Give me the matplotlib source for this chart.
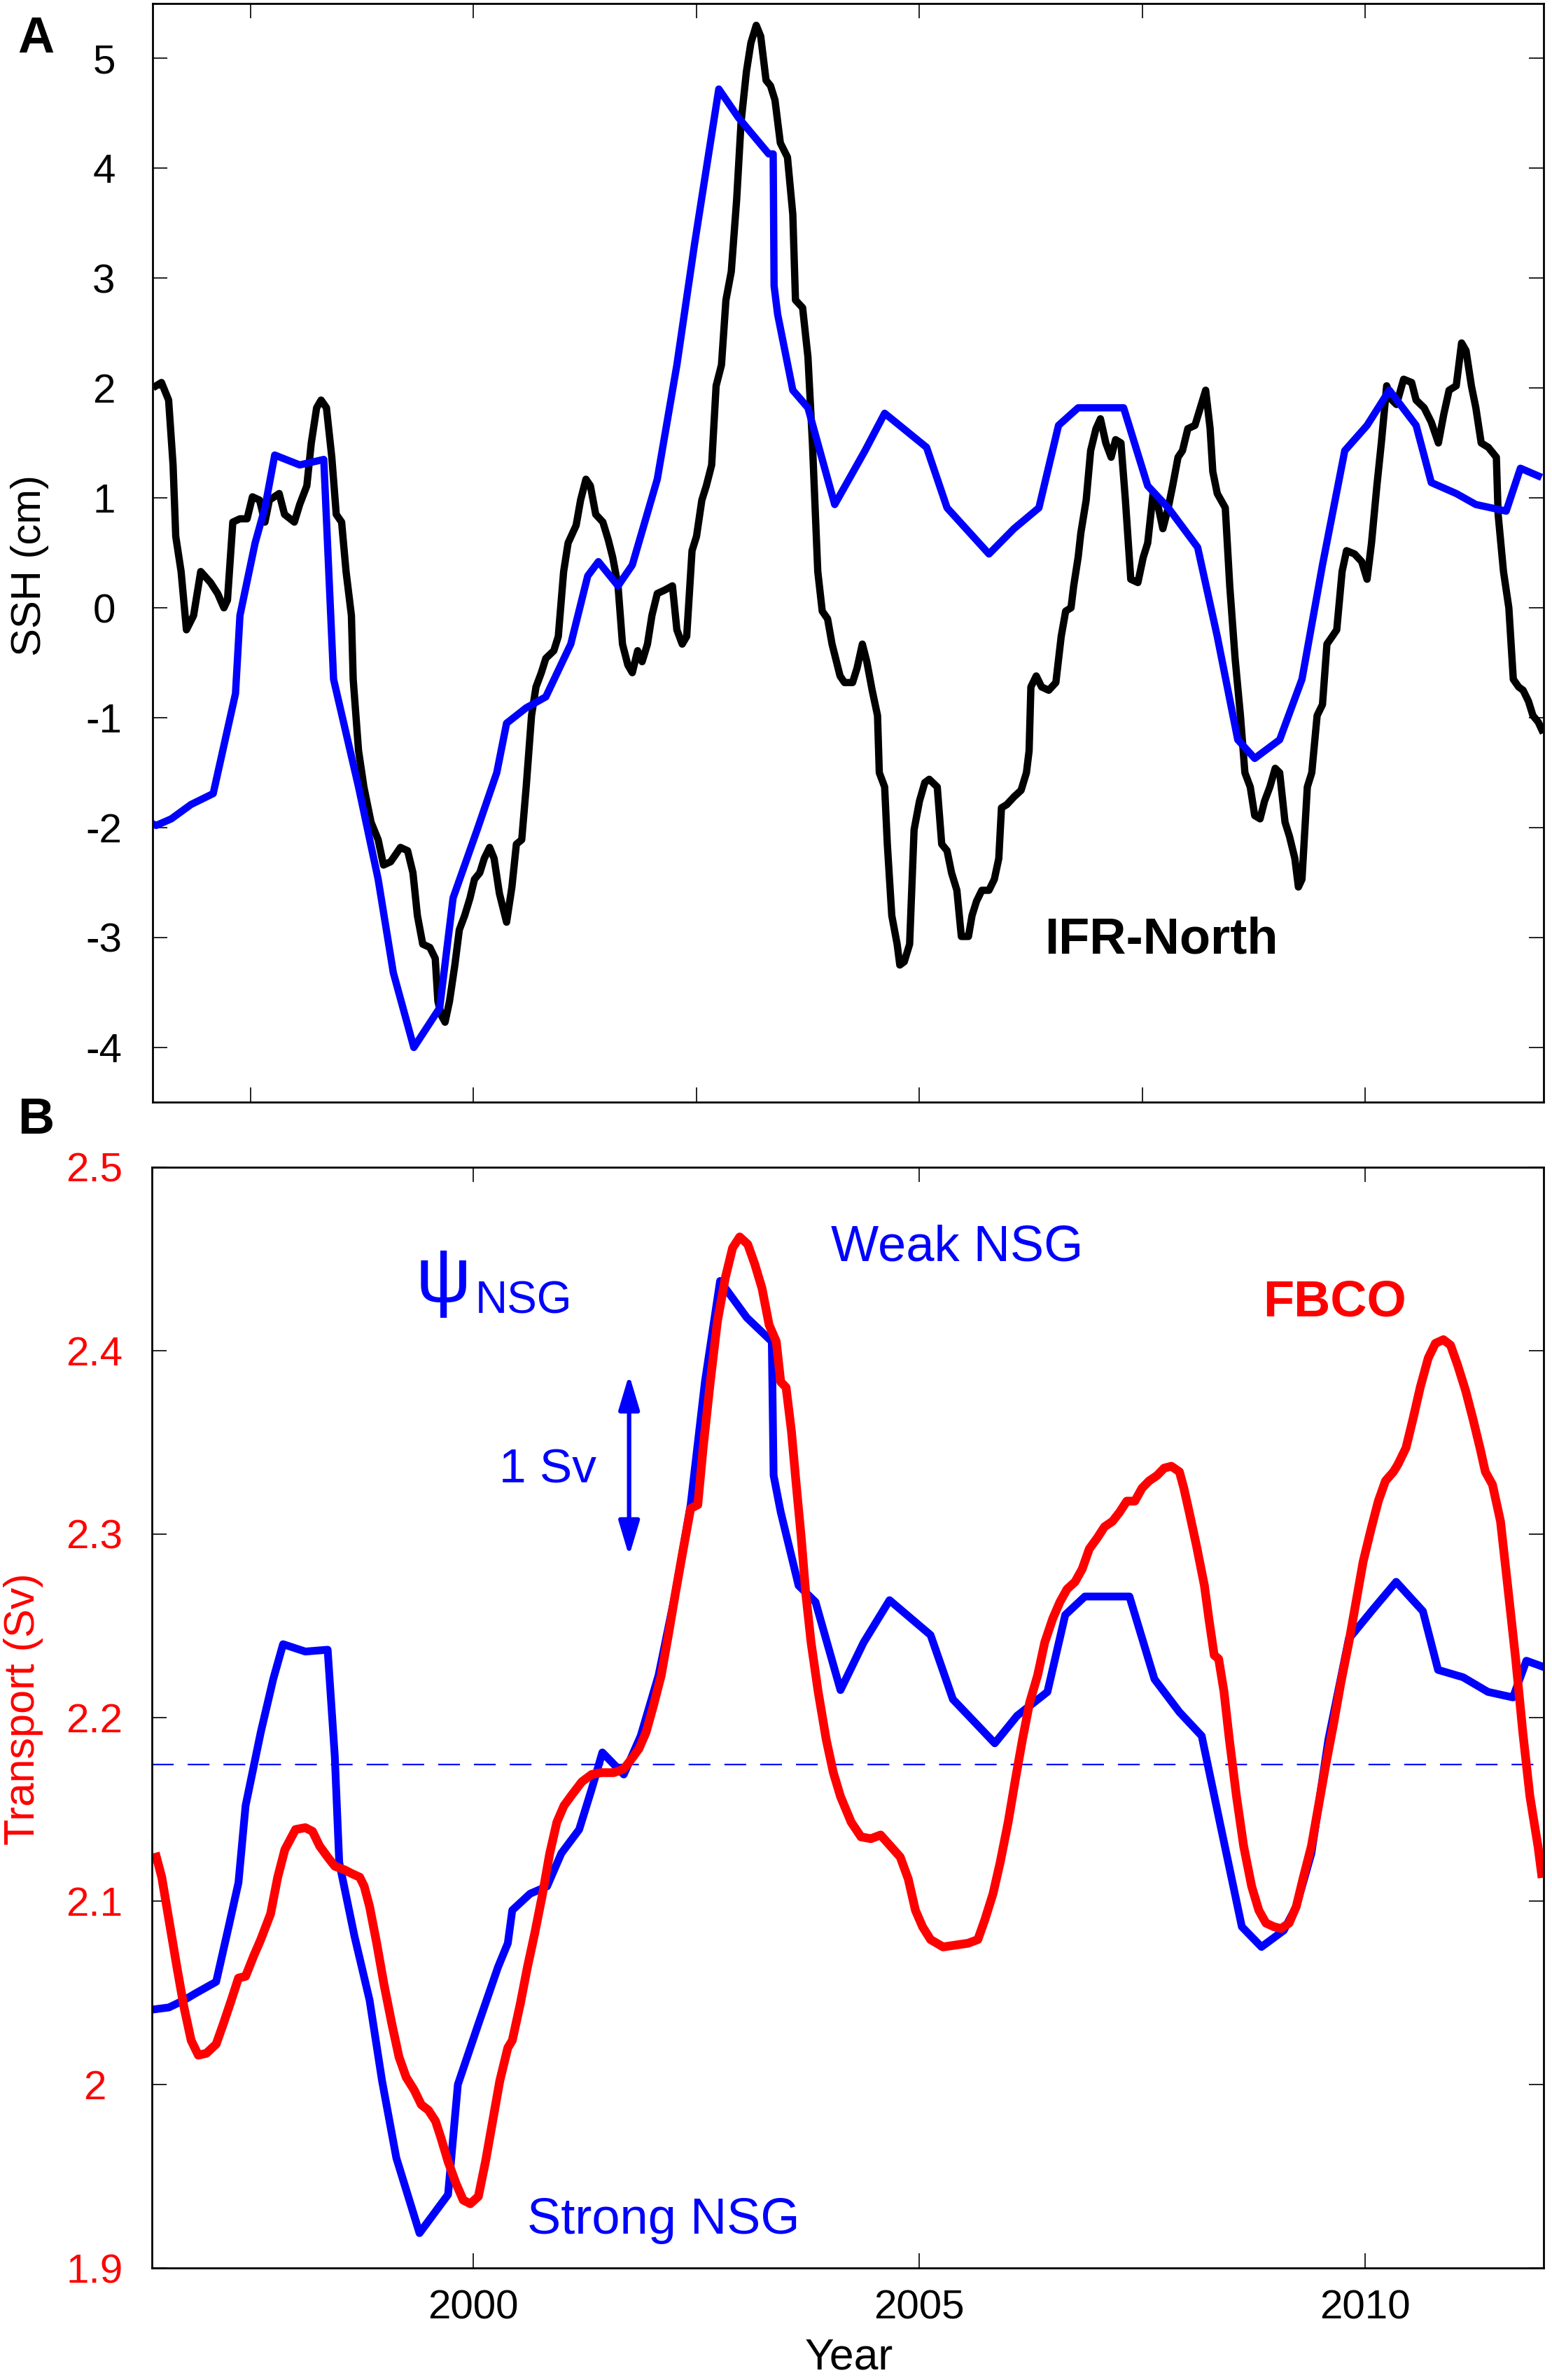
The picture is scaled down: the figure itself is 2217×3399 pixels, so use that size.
import matplotlib
matplotlib.use("Agg")
import matplotlib.pyplot as plt

plt.rcParams['font.family'] = ['Liberation Sans', 'DejaVu Sans']

# ---------------- Panel A data (SSH, cm) ----------------
ifr_year = [1996.44, 1996.50, 1996.58, 1996.63, 1996.66, 1996.72, 1996.78, 1996.86, 1996.94, 1997.05,
            1997.13, 1997.20, 1997.24, 1997.30, 1997.38, 1997.46, 1997.52, 1997.60, 1997.66, 1997.71,
            1997.82, 1997.88, 1997.99, 1998.05, 1998.13, 1998.18, 1998.24, 1998.29, 1998.35, 1998.41,
            1998.46, 1998.52, 1998.57, 1998.63, 1998.65, 1998.71, 1998.77, 1998.85, 1998.93, 1998.99,
            1999.07, 1999.13, 1999.18, 1999.26, 1999.32, 1999.37, 1999.43, 1999.51, 1999.57, 1999.60,
            1999.64, 1999.68, 1999.73, 1999.79, 1999.84, 1999.90, 1999.96, 2000.01, 2000.07, 2000.12,
            2000.18, 2000.23, 2000.29, 2000.37, 2000.43, 2000.48, 2000.54, 2000.59, 2000.65, 2000.70,
            2000.76, 2000.81, 2000.90, 2000.95, 2001.01, 2001.06, 2001.15, 2001.20, 2001.26, 2001.31,
            2001.37, 2001.45, 2001.51, 2001.56, 2001.62, 2001.67, 2001.73, 2001.78, 2001.84, 2001.89,
            2001.95, 2002.00, 2002.06, 2002.14, 2002.23, 2002.28, 2002.34, 2002.39, 2002.45, 2002.50,
            2002.56, 2002.61, 2002.67, 2002.72, 2002.78, 2002.83, 2002.89, 2002.95, 2003.00, 2003.06,
            2003.11, 2003.17, 2003.22, 2003.28, 2003.33, 2003.38, 2003.44, 2003.52, 2003.58, 2003.61,
            2003.69, 2003.75, 2003.80, 2003.86, 2003.91, 2003.97, 2004.02, 2004.11, 2004.16, 2004.25,
            2004.30, 2004.36, 2004.41, 2004.47, 2004.53, 2004.55, 2004.61, 2004.64, 2004.69, 2004.75,
            2004.78, 2004.83, 2004.89, 2004.94, 2005.00, 2005.06, 2005.11, 2005.20, 2005.25, 2005.31,
            2005.36, 2005.42, 2005.47, 2005.55, 2005.59, 2005.64, 2005.70, 2005.78, 2005.84, 2005.89,
            2005.92, 2005.98, 2006.06, 2006.14, 2006.20, 2006.23, 2006.25, 2006.31, 2006.37, 2006.45,
            2006.53, 2006.59, 2006.64, 2006.70, 2006.73, 2006.78, 2006.81, 2006.87, 2006.92, 2006.98,
            2007.03, 2007.09, 2007.15, 2007.20, 2007.26, 2007.31, 2007.37, 2007.45, 2007.51, 2007.56,
            2007.62, 2007.68, 2007.73, 2007.79, 2007.84, 2007.90, 2007.95, 2008.01, 2008.09, 2008.15,
            2008.21, 2008.26, 2008.29, 2008.34, 2008.43, 2008.48, 2008.54, 2008.60, 2008.65, 2008.71,
            2008.76, 2008.82, 2008.87, 2008.93, 2008.99, 2009.04, 2009.10, 2009.15, 2009.21, 2009.25,
            2009.29, 2009.35, 2009.40, 2009.46, 2009.52, 2009.57, 2009.63, 2009.68, 2009.74, 2009.79,
            2009.88, 2009.96, 2010.02, 2010.07, 2010.13, 2010.18, 2010.24, 2010.30, 2010.35, 2010.43,
            2010.52, 2010.57, 2010.66, 2010.74, 2010.82, 2010.88, 2010.94, 2011.02, 2011.08, 2011.13,
            2011.19, 2011.24, 2011.30, 2011.38, 2011.47, 2011.49, 2011.55, 2011.61, 2011.66, 2011.72,
            2011.77, 2011.83, 2011.88, 2011.94, 2011.98]
ifr_ssh = [2.02, 2.05, 1.89, 1.30, 0.65, 0.33, -0.20, -0.07, 0.33, 0.23,
           0.13, 0.00, 0.07, 0.78, 0.81, 0.81, 1.01, 0.98, 0.78, 0.98,
           1.04, 0.85, 0.78, 0.94, 1.11, 1.50, 1.82, 1.89, 1.82, 1.37,
           0.85, 0.78, 0.33, -0.07, -0.65, -1.30, -1.63, -1.95, -2.11, -2.34,
           -2.31, -2.24, -2.18, -2.21, -2.41, -2.80, -3.06, -3.09, -3.19, -3.58,
           -3.71, -3.77, -3.58, -3.25, -2.93, -2.80, -2.64, -2.47, -2.41, -2.28,
           -2.18, -2.28, -2.60, -2.86, -2.54, -2.15, -2.11, -1.63, -0.98, -0.72,
           -0.59, -0.46, -0.39, -0.26, 0.33, 0.59, 0.75, 0.98, 1.17, 1.11,
           0.85, 0.78, 0.62, 0.46, 0.20, -0.33, -0.52, -0.59, -0.39, -0.49,
           -0.33, -0.07, 0.13, 0.16, 0.20, -0.20, -0.33, -0.26, 0.52, 0.65,
           0.98, 1.11, 1.30, 2.02, 2.21, 2.80, 3.06, 3.71, 4.42, 4.88,
           5.14, 5.30, 5.20, 4.80, 4.75, 4.62, 4.23, 4.10, 3.58, 2.80,
           2.73, 2.28, 1.50, 0.33, -0.03, -0.10, -0.33, -0.62, -0.68, -0.68,
           -0.55, -0.33, -0.49, -0.75, -0.98, -1.50, -1.63, -2.15, -2.80, -3.06,
           -3.25, -3.22, -3.06, -2.02, -1.76, -1.59, -1.56, -1.63, -2.15, -2.21,
           -2.41, -2.57, -2.99, -2.99, -2.80, -2.67, -2.57, -2.57, -2.47, -2.28,
           -1.82, -1.79, -1.72, -1.66, -1.50, -1.30, -0.72, -0.62, -0.72, -0.75,
           -0.68, -0.26, -0.03, 0.00, 0.20, 0.46, 0.68, 0.98, 1.43, 1.63,
           1.72, 1.50, 1.37, 1.53, 1.50, 0.98, 0.26, 0.23, 0.46, 0.59,
           1.04, 0.91, 0.72, 0.91, 1.11, 1.37, 1.43, 1.63, 1.66, 1.82,
           1.98, 1.63, 1.24, 1.04, 0.91, 0.20, -0.46, -0.98, -1.50, -1.63,
           -1.89, -1.92, -1.76, -1.63, -1.46, -1.50, -1.95, -2.08, -2.28, -2.54,
           -2.47, -1.63, -1.50, -0.98, -0.88, -0.33, -0.26, -0.20, 0.33, 0.52,
           0.49, 0.42, 0.26, 0.59, 1.11, 1.50, 2.02, 1.89, 1.85, 2.08,
           2.05, 1.89, 1.82, 1.69, 1.50, 1.76, 1.98, 2.02, 2.41, 2.34,
           2.02, 1.82, 1.50, 1.46, 1.37, 0.85, 0.33, 0.00, -0.65, -0.72,
           -0.75, -0.85, -0.98, -1.04, -1.11]

nsg_a_year = [1996.36, 1996.44, 1996.61, 1996.83, 1997.08, 1997.33, 1997.38, 1997.55, 1997.66, 1997.77,
              1998.05, 1998.32, 1998.43, 1998.71, 1998.93, 1999.10, 1999.33, 1999.62, 1999.77, 2000.04,
              2000.26, 2000.37, 2000.59, 2000.81, 2001.09, 2001.28, 2001.40, 2001.62, 2001.78, 2002.06,
              2002.28, 2002.48, 2002.75, 2002.97, 2003.31, 2003.36, 2003.37, 2003.41, 2003.58, 2003.75,
              2004.05, 2004.39, 2004.61, 2005.08, 2005.31, 2005.78, 2006.06, 2006.34, 2006.56, 2006.78,
              2007.29, 2007.56, 2007.79, 2008.12, 2008.34, 2008.57, 2008.76, 2009.04, 2009.29, 2009.52,
              2009.77, 2010.02, 2010.27, 2010.57, 2010.74, 2011.02, 2011.24, 2011.58, 2011.74, 2011.94]
nsg_a_ssh = [-1.95, -1.98, -1.92, -1.79, -1.69, -0.78, -0.07, 0.59, 0.91, 1.39,
             1.30, 1.35, -0.65, -1.63, -2.47, -3.32, -4.00, -3.64, -2.64, -2.02,
             -1.50, -1.05, -0.91, -0.81, -0.33, 0.29, 0.42, 0.20, 0.39, 1.17,
             2.21, 3.32, 4.72, 4.46, 4.13, 4.13, 2.93, 2.67, 1.98, 1.82,
             0.94, 1.43, 1.77, 1.46, 0.91, 0.49, 0.72, 0.91, 1.66, 1.82,
             1.82, 1.11, 0.91, 0.55, -0.26, -1.20, -1.37, -1.20, -0.65, 0.39,
             1.43, 1.66, 1.98, 1.66, 1.14, 1.04, 0.94, 0.88, 1.27, 1.20]

# ---------------- Panel B data (Transport, Sv) ----------------
fbco_year = [1996.45, 1996.51, 1996.59, 1996.68, 1996.76, 1996.84, 1996.92, 1997.01, 1997.12, 1997.20,
             1997.29, 1997.37, 1997.45, 1997.54, 1997.62, 1997.73, 1997.81, 1997.89, 1998.01, 1998.12,
             1998.20, 1998.28, 1998.37, 1998.45, 1998.56, 1998.64, 1998.73, 1998.78, 1998.84, 1998.92,
             1999.00, 1999.09, 1999.17, 1999.25, 1999.34, 1999.42, 1999.50, 1999.58, 1999.64, 1999.72,
             1999.81, 1999.89, 1999.97, 2000.06, 2000.14, 2000.22, 2000.30, 2000.39, 2000.44, 2000.53,
             2000.61, 2000.69, 2000.78, 2000.86, 2000.94, 2001.02, 2001.11, 2001.22, 2001.33, 2001.44,
             2001.58, 2001.69, 2001.77, 2001.86, 2001.94, 2002.02, 2002.11, 2002.19, 2002.27, 2002.35,
             2002.44, 2002.52, 2002.58, 2002.66, 2002.74, 2002.83, 2002.91, 2002.99, 2003.08, 2003.16,
             2003.24, 2003.32, 2003.40, 2003.45, 2003.51, 2003.57, 2003.62, 2003.68, 2003.73, 2003.79,
             2003.87, 2003.96, 2004.04, 2004.12, 2004.24, 2004.35, 2004.46, 2004.57, 2004.68, 2004.79,
             2004.88, 2004.96, 2005.04, 2005.13, 2005.27, 2005.41, 2005.55, 2005.66, 2005.74, 2005.83,
             2005.91, 2006.00, 2006.08, 2006.16, 2006.24, 2006.33, 2006.41, 2006.50, 2006.58, 2006.66,
             2006.75, 2006.83, 2006.91, 2007.00, 2007.08, 2007.17, 2007.25, 2007.33, 2007.42, 2007.50,
             2007.58, 2007.67, 2007.75, 2007.83, 2007.92, 2007.97, 2008.03, 2008.11, 2008.20, 2008.25,
             2008.31, 2008.36, 2008.42, 2008.48, 2008.56, 2008.64, 2008.73, 2008.81, 2008.89, 2008.98,
             2009.06, 2009.15, 2009.23, 2009.31, 2009.40, 2009.48, 2009.56, 2009.65, 2009.73, 2009.82,
             2009.90, 2009.98, 2010.07, 2010.15, 2010.23, 2010.32, 2010.37, 2010.46, 2010.54, 2010.62,
             2010.71, 2010.79, 2010.88, 2010.96, 2011.04, 2011.13, 2011.21, 2011.29, 2011.35, 2011.43,
             2011.52, 2011.60, 2011.69, 2011.77, 2011.85, 2011.94, 2011.98]
fbco_sv = [2.124, 2.113, 2.090, 2.064, 2.042, 2.024, 2.016, 2.017, 2.022, 2.033,
           2.046, 2.058, 2.059, 2.070, 2.079, 2.093, 2.113, 2.128, 2.139, 2.140,
           2.138, 2.130, 2.124, 2.119, 2.117, 2.115, 2.113, 2.108, 2.097, 2.077,
           2.055, 2.033, 2.015, 2.004, 1.997, 1.989, 1.986, 1.980, 1.971, 1.958,
           1.946, 1.937, 1.935, 1.939, 1.958, 1.980, 2.002, 2.020, 2.024, 2.044,
           2.064, 2.082, 2.104, 2.126, 2.143, 2.152, 2.158, 2.165, 2.169, 2.170,
           2.170, 2.172, 2.177, 2.183, 2.192, 2.206, 2.223, 2.245, 2.268, 2.290,
           2.314, 2.316, 2.347, 2.383, 2.416, 2.440, 2.456, 2.462, 2.458, 2.447,
           2.434, 2.414, 2.405, 2.383, 2.380, 2.356, 2.329, 2.298, 2.268, 2.241,
           2.214, 2.188, 2.170, 2.157, 2.143, 2.135, 2.134, 2.136, 2.130, 2.124,
           2.112, 2.095, 2.086, 2.079, 2.075, 2.076, 2.077, 2.079, 2.090, 2.104,
           2.121, 2.143, 2.166, 2.188, 2.208, 2.223, 2.241, 2.254, 2.263, 2.270,
           2.274, 2.281, 2.292, 2.298, 2.304, 2.307, 2.312, 2.318, 2.318, 2.325,
           2.329, 2.332, 2.336, 2.337, 2.334, 2.325, 2.312, 2.294, 2.272, 2.254,
           2.234, 2.232, 2.214, 2.188, 2.157, 2.130, 2.108, 2.095, 2.088, 2.086,
           2.085, 2.088, 2.097, 2.113, 2.130, 2.152, 2.174, 2.197, 2.219, 2.241,
           2.263, 2.285, 2.303, 2.318, 2.329, 2.334, 2.338, 2.347, 2.363, 2.380,
           2.396, 2.404, 2.406, 2.403, 2.392, 2.378, 2.363, 2.347, 2.334, 2.327,
           2.307, 2.272, 2.232, 2.192, 2.157, 2.130, 2.115]

nsg_b_year = [1996.43, 1996.59, 1996.76, 1996.90, 1997.12, 1997.26, 1997.37, 1997.45, 1997.62, 1997.76,
              1997.87, 1998.12, 1998.37, 1998.45, 1998.50, 1998.67, 1998.84, 1998.98, 1999.14, 1999.40,
              1999.72, 1999.83, 2000.06, 2000.28, 2000.39, 2000.44, 2000.64, 2000.83, 2000.99, 2001.19,
              2001.33, 2001.45, 2001.69, 2001.88, 2002.08, 2002.27, 2002.44, 2002.60, 2002.77, 2003.07,
              2003.35, 2003.37, 2003.45, 2003.65, 2003.84, 2004.12, 2004.38, 2004.67, 2005.13, 2005.38,
              2005.85, 2006.10, 2006.44, 2006.64, 2006.86, 2007.36, 2007.64, 2007.92, 2008.17, 2008.39,
              2008.62, 2008.84, 2009.09, 2009.23, 2009.40, 2009.59, 2009.82, 2010.09, 2010.35, 2010.65,
              2010.82, 2011.10, 2011.38, 2011.66, 2011.81, 2011.98]
nsg_b_sv = [2.041, 2.042, 2.046, 2.050, 2.056, 2.086, 2.110, 2.152, 2.192, 2.221,
            2.240, 2.236, 2.237, 2.179, 2.121, 2.081, 2.046, 2.002, 1.960, 1.919,
            1.940, 2.000, 2.033, 2.064, 2.077, 2.095, 2.104, 2.108, 2.126, 2.139,
            2.161, 2.181, 2.169, 2.190, 2.223, 2.268, 2.316, 2.383, 2.438, 2.418,
            2.405, 2.332, 2.312, 2.272, 2.263, 2.215, 2.241, 2.264, 2.245, 2.210,
            2.186, 2.201, 2.214, 2.256, 2.266, 2.266, 2.221, 2.203, 2.190, 2.139,
            2.086, 2.075, 2.084, 2.097, 2.126, 2.188, 2.243, 2.259, 2.274, 2.258,
            2.226, 2.222, 2.214, 2.211, 2.231, 2.228]
nsg_mean = 2.1745

a_yticks = [-4, -3, -2, -1, 0, 1, 2, 3, 4, 5]
a_xticks = [1997.5, 2000, 2002.5, 2005, 2007.5, 2010]
b_yticks = [1.9, 2.0, 2.1, 2.2, 2.3, 2.4, 2.5]
b_yticklabels = ['1.9', '2', '2.1', '2.2', '2.3', '2.4', '2.5']
b_xticks = [2000, 2005, 2010]

BLUE = '#0000ff'
RED = '#ff0000'
TICKFS = 42

fig = plt.figure(figsize=(22.17, 33.99), dpi=100)

# ---------------- Panel A ----------------
axA = fig.add_axes([0.0983, 0.5368, 0.8963, 0.4618])
axA.plot(ifr_year, ifr_ssh, color='black', lw=7.5)
axA.plot(nsg_a_year, nsg_a_ssh, color=BLUE, lw=7.5)
axA.set_xlim(1996.4, 2012.0)
axA.set_ylim(-4.5, 5.5)
axA.set_xticks(a_xticks)
axA.set_xticklabels([])
axA.set_yticks(a_yticks)
axA.set_yticklabels([str(v) for v in a_yticks])
axA.tick_params(axis='both', direction='in', top=True, right=True, length=15, width=1.2,
                labelsize=TICKFS)
axA.tick_params(axis='y', pad=50)
for lab in axA.get_yticklabels():
    lab.set_horizontalalignment('center')
axA.text(2006.40, -3.146, 'IFR-North', fontsize=52, fontweight='bold', color='black',
         ha='left', va='baseline')
for sp in axA.spines.values():
    sp.set_linewidth(2.0)

# ---------------- Panel B ----------------
axB = fig.add_axes([0.0979, 0.04707, 0.8965, 0.4625])
axB.axhline(nsg_mean, color=BLUE, lw=1.6, linestyle=(0, (14, 9)))
axB.plot(nsg_b_year, nsg_b_sv, color=BLUE, lw=8.0)
axB.plot(fbco_year, fbco_sv, color=RED, lw=9.0)
axB.set_xlim(1996.4, 2012.0)
axB.set_ylim(1.9, 2.5)
axB.set_xticks(b_xticks)
axB.set_xticklabels([str(v) for v in b_xticks])
axB.set_yticks(b_yticks)
axB.set_yticklabels(b_yticklabels)
axB.tick_params(axis='both', direction='in', top=True, right=True, length=15, width=1.2,
                labelsize=TICKFS)
axB.tick_params(axis='y', pad=59, labelcolor=RED)
axB.tick_params(axis='x', pad=22)
for lab in axB.get_yticklabels():
    lab.set_horizontalalignment('center')
for sp in axB.spines.values():
    sp.set_linewidth(2.0)

axB.text(1999.355, 2.4378, '\u03c8', fontsize=80, color=BLUE, ha='left', va='center')
axB.text(2000.02, 2.4206, 'NSG', fontsize=46, color=BLUE, ha='left', va='baseline')
axB.text(2004.01, 2.449, 'Weak NSG', fontsize=52, color=BLUE, ha='left', va='baseline')
axB.text(2008.86, 2.419, 'FBCO', fontsize=52, fontweight='bold', color=RED, ha='left', va='baseline')
axB.text(2000.29, 2.3282, '1 Sv', fontsize=50, color=BLUE, ha='left', va='baseline')
axB.text(2000.61, 1.9187, 'Strong NSG', fontsize=52, color=BLUE, ha='left', va='baseline')
axB.annotate('', xy=(2001.75, 2.387), xytext=(2001.75, 2.288),
             arrowprops=dict(arrowstyle='<|-|>,head_length=1.5,head_width=0.45',
                             mutation_scale=20, color=BLUE, lw=4.5,
                             shrinkA=0, shrinkB=0))

# ---------------- Figure texts ----------------
fig.text(0.0192, 0.7623, 'SSH (cm)', fontsize=43, rotation=90, ha='center', va='center')
fig.text(0.015, 0.2818, 'Transport (Sv)', fontsize=44, rotation=90, ha='center', va='center',
         color=RED)
fig.text(0.547, 0.0008, 'Year', fontsize=45, ha='center', va='bottom')
fig.text(0.023, 0.9835, 'A', fontsize=52, fontweight='bold', ha='center', va='center')
fig.text(0.023, 0.5293, 'B', fontsize=52, fontweight='bold', ha='center', va='center')

fig.savefig('out.png', dpi=100)
